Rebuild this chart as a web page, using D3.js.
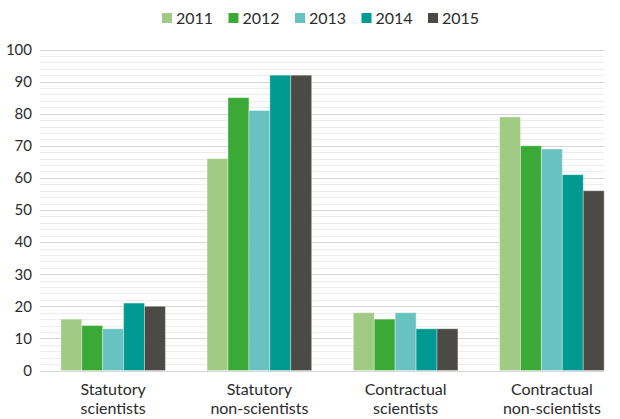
<!DOCTYPE html>
<html>
<head>
<meta charset="utf-8">
<script src="https://cdn.jsdelivr.net/npm/d3@7"></script>
<style>
  body { margin: 0; background: #fff; }
  text { font-family: Lato, "Open Sans", sans-serif; fill: #2b2b2b; }
</style>
</head>
<body>
<div id="chart"></div>
<script>
// chart data
var categories = [["Statutory", "scientists"], ["Statutory", "non-scientists"], ["Contractual", "scientists"], ["Contractual", "non-scientists"]];
var years = ["2011", "2012", "2013", "2014", "2015"];
var colors = ["#a1cb84", "#3aa935", "#68c2bf", "#009a92", "#4c4a45"];
var values2011 = [16, 66, 18, 79];
var values2012 = [14, 85, 16, 70];
var values2013 = [13, 81, 18, 69];
var values2014 = [21, 92, 13, 61];
var values2015 = [20, 92, 13, 56];
var yTicks = [0, 10, 20, 30, 40, 50, 60, 70, 80, 90, 100];

var series = [values2011, values2012, values2013, values2014, values2015];

var svgWidth = 620;
var svgHeight = 419;

var svg = d3.select("#chart")
  .append("svg")
  .attr("width", svgWidth)
  .attr("height", svgHeight);

// scales
var x0 = d3.scaleBand()
  .domain(d3.range(categories.length))
  .range([40, 625])
  .paddingInner(0.285)
  .paddingOuter(0.1425);

var x1 = d3.scaleBand()
  .domain(years)
  .range([0, x0.bandwidth()]);

var y = d3.scaleLinear()
  .domain([0, 100])
  .range([370.5, 49.5]);

var gridLeft = 40, gridRight = 604;

// minor gridlines
svg.append("g").selectAll("line")
  .data(d3.range(0, 101, 2).filter(d => d % 10 !== 0))
  .enter().append("line")
  .attr("x1", gridLeft).attr("x2", gridRight)
  .attr("y1", d => Math.round(y(d)) + 0.5)
  .attr("y2", d => Math.round(y(d)) + 0.5)
  .attr("stroke", "#ededed");

// major gridlines
svg.append("g").selectAll("line")
  .data(yTicks)
  .enter().append("line")
  .attr("x1", gridLeft).attr("x2", gridRight)
  .attr("y1", d => Math.round(y(d)) + 0.5)
  .attr("y2", d => Math.round(y(d)) + 0.5)
  .attr("stroke", "#d6d6d6");

// y axis labels
var leftAxis = d3.axisLeft(y).tickValues(yTicks).tickSize(0).tickPadding(8);
var yAxis = svg.append("g")
  .attr("transform", "translate(40,0)")
  .call(leftAxis);
yAxis.select(".domain").remove();
yAxis.selectAll("text")
  .style("font-size", "15px")
  .attr("fill", "#2b2b2b");

// bars
var groups = svg.append("g").selectAll("g")
  .data(categories)
  .enter().append("g")
  .attr("transform", (d, i) => `translate(${x0(i)},0)`);

groups.selectAll("rect")
  .data((d, i) => years.map((yr, j) => ({ year: yr, value: series[j][i], color: colors[j] })))
  .enter().append("rect")
  .attr("x", d => x1(d.year))
  .attr("width", x1.bandwidth())
  .attr("y", d => y(d.value))
  .attr("height", d => y(0) - y(d.value))
  .attr("fill", d => d.color)
  .attr("stroke", "rgba(255,255,255,0.35)")
  .attr("stroke-width", 1);

// x labels
var xLabels = svg.append("g").selectAll("text")
  .data(categories)
  .enter().append("text")
  .attr("text-anchor", "middle")
  .attr("x", (d, i) => x0(i) + x0.bandwidth() / 2)
  .attr("y", 395)
  .style("font-size", "16px");
xLabels.selectAll("tspan")
  .data(d => d)
  .enter().append("tspan")
  .attr("x", function() { return d3.select(this.parentNode).attr("x"); })
  .attr("dy", (d, i) => i === 0 ? 0 : 19)
  .text(d => d);

// legend
var legend = svg.append("g").selectAll("g")
  .data(years)
  .enter().append("g")
  .attr("transform", (d, i) => `translate(${162 + i * 66.5},13)`);
legend.append("rect")
  .attr("width", 10).attr("height", 10)
  .attr("fill", (d, i) => colors[i]);
legend.append("text")
  .attr("x", 14)
  .attr("y", 10.5)
  .style("font-size", "16px")
  .text(d => d);
</script>
</body>
</html>
